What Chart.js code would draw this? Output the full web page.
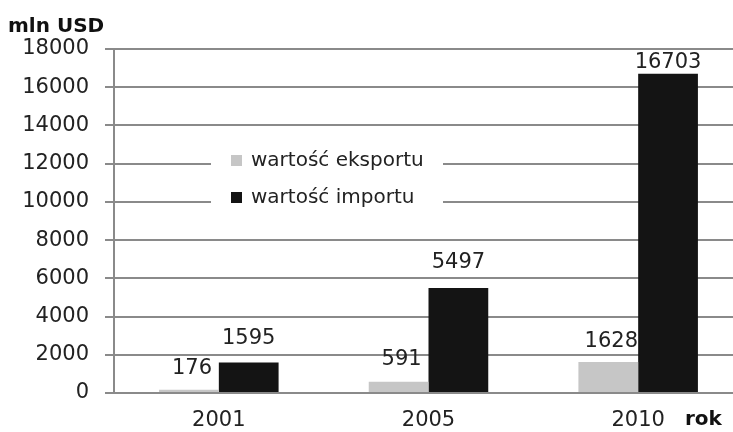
<!DOCTYPE html>
<html>
<head>
<meta charset="utf-8">
<script src="https://cdn.jsdelivr.net/npm/chart.js@4"></script>
<style>
  html, body { margin: 0; padding: 0; background: #fff; overflow: hidden; }
  #wrap { width: 743px; height: 432px; }
</style>
</head>
<body>
<div id="wrap"><canvas id="myChart" width="743" height="432"></canvas></div>
<script>
const years = ['2001', '2005', '2010'];
const exportValues = [176, 591, 1628];
const importValues = [1595, 5497, 16703];
const seriesNames = ['wartość eksportu', 'wartość importu'];
const yTicks = [0, 2000, 4000, 6000, 8000, 10000, 12000, 14000, 16000, 18000];

const FONT = '"DejaVu Sans", sans-serif';

// labels above bars, legend box inside the plot, axis titles
const extras = {
  id: 'extras',
  afterDatasetsDraw(chart) {
    const ctx = chart.ctx;
    ctx.save();
    ctx.font = '21px ' + FONT;
    ctx.fillStyle = '#222';
    ctx.textAlign = 'center';
    ctx.textBaseline = 'bottom';
    const lift = [[11, 12, 10], [13, 15, 1]];
    chart.data.datasets.forEach((ds, i) => {
      chart.getDatasetMeta(i).data.forEach((bar, j) => {
        ctx.fillText(String(ds.data[j]), bar.x + (i === 0 ? 3 : 0), bar.y - lift[i][j]);
      });
    });

    // legend
    ctx.fillStyle = '#fff';
    ctx.fillRect(211, 142, 232, 76);
    ctx.font = '20px ' + FONT;
    ctx.textAlign = 'left';
    ctx.textBaseline = 'middle';
    chart.data.datasets.forEach((ds, i) => {
      const y = 161 + i * 37;
      ctx.fillStyle = ds.backgroundColor;
      ctx.fillRect(231, y - 6, 11, 11);
      ctx.fillStyle = '#222';
      ctx.fillText(ds.label, 251, y);
    });

    ctx.font = 'bold 20px ' + FONT;
    ctx.fillStyle = '#111';
    ctx.textAlign = 'left';
    ctx.textBaseline = 'alphabetic';
    ctx.fillText('mln USD', 8, 32);
    ctx.fillText('rok', 685, 425);
    ctx.restore();
  }
};

const ctx = document.getElementById('myChart');
new Chart(ctx, {
  type: 'bar',
  data: {
    labels: years,
    datasets: [
      { label: seriesNames[0], data: exportValues, backgroundColor: '#c6c6c6' },
      { label: seriesNames[1], data: importValues, backgroundColor: '#141414' }
    ]
  },
  options: {
    responsive: false,
    animation: false,
    devicePixelRatio: 1,
    layout: { padding: { top: 49, left: 0, right: 0, bottom: 0 } },
    categoryPercentage: 0.57,
    barPercentage: 1,
    plugins: { legend: { display: false }, tooltip: { enabled: false } },
    scales: {
      x: {
        grid: { display: false, drawTicks: false },
        border: { color: '#8a8a8a', width: 2 },
        ticks: { font: { family: FONT, size: 21 }, color: '#222', padding: 15 },
        afterFit(scale) { scale.height = 39; }
      },
      y: {
        min: 0,
        max: 18000,
        afterBuildTicks(scale) { scale.ticks = yTicks.map(v => ({ value: v })); },
        grid: { color: '#8a8a8a', lineWidth: 2, tickLength: 9 },
        border: { color: '#8a8a8a', width: 2 },
        ticks: {
          font: { family: FONT, size: 21 }, color: '#222', padding: 16,
          callback: v => String(v)
        },
        afterFit(scale) { scale.width = 114; }
      }
    }
  },
  plugins: [extras]
});
</script>
</body>
</html>
